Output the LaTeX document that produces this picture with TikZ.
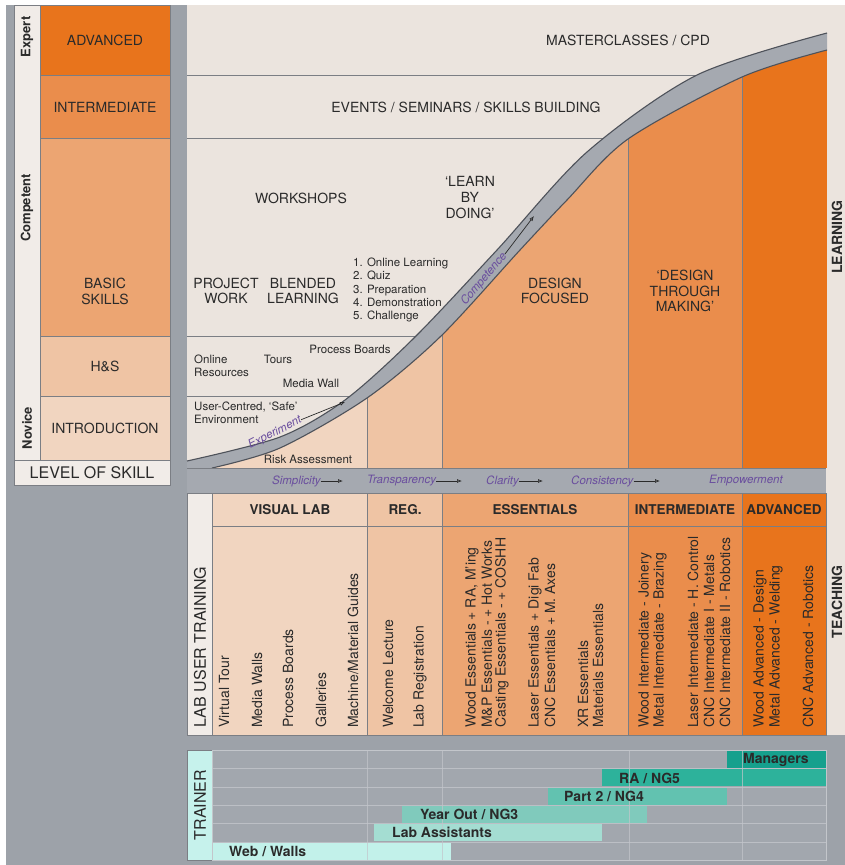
\documentclass[tikz,border=0pt]{standalone}
\usepackage{fontspec}
\setmainfont{TeX Gyre Heros}
\usetikzlibrary{arrows.meta}

\definecolor{bggray}{HTML}{9DA2A9}
\definecolor{paper}{HTML}{EBE4DE}
\definecolor{pale}{HTML}{F1ECE8}
\definecolor{bandgray}{HTML}{A5A9B0}
\definecolor{edgegray}{HTML}{4E525A}
\definecolor{rulegray}{HTML}{7B7E84}
\definecolor{lvlA}{HTML}{E8741C}
\definecolor{lvlB}{HTML}{EA8D4C}
\definecolor{lvlC}{HTML}{ECA572}
\definecolor{lvlD}{HTML}{EFC4A4}
\definecolor{lvlE}{HTML}{F1D5C0}
\definecolor{ink}{HTML}{2A2A2A}
\definecolor{moodpurple}{HTML}{6A4E9E}
\definecolor{trgrid}{HTML}{A2A7AE}
\definecolor{trline}{HTML}{C3C6CB}
\definecolor{trlabel}{HTML}{C6F2EC}
\definecolor{trMgr}{HTML}{16A08D}
\definecolor{trRA}{HTML}{2DB29B}
\definecolor{trPart}{HTML}{62C2B0}
\definecolor{trYear}{HTML}{80CABC}
\definecolor{trAsst}{HTML}{A4DDD2}
\definecolor{trWeb}{HTML}{C2F1EA}

\tikzset{
  txt/.style={text=ink, font=\fontsize{14}{16}\selectfont, align=center, inner sep=0pt},
  txtb/.style={txt, font=\fontsize{14}{16}\selectfont\bfseries},
  hdr/.style={txt, font=\fontsize{13.5}{16}\selectfont\bfseries},
  small/.style={text=ink, font=\fontsize{11.5}{13.3}\selectfont, align=left, inner sep=0pt},
  mood/.style={text=moodpurple, font=\fontsize{11.5}{13}\selectfont\itshape, inner sep=0pt},
  vert/.style={txt, rotate=90, anchor=west, align=left},
  side/.style={txtb, rotate=90},
  barlabel/.style={txtb, anchor=west},
  cell/.style={draw=rulegray, line width=0.8pt},
  rule/.style={draw=rulegray, line width=0.9pt},
  edge/.style={draw=edgegray, line width=1.1pt},
  flow/.style={draw=ink, line width=0.7pt, -{Latex[open,length=5pt,width=4pt]}},
}

\begin{document}
\begin{tikzpicture}[x=1pt,y=-1pt]
    \useasboundingbox (0,0) rectangle (845,865);
    \fill[white] (0,0) rectangle (845,865);
    \fill[bggray] (6,5) rectangle (845,865);

    % Level of skill column
    \draw[cell, fill=pale] (14,5) rectangle (40,460);
    \node[side, font=\fontsize{13}{15}\selectfont\bfseries] (expert) at (27,37) {Expert};
    \node[side, font=\fontsize{13}{15}\selectfont\bfseries] (competent) at (27,208) {Competent};
    \node[side, font=\fontsize{13}{15}\selectfont\bfseries] (novice) at (27,428) {Novice};

    \draw[cell, fill=lvlA] (40,5) rectangle (170,75);
    \draw[cell, fill=lvlB] (40,75) rectangle (170,138);
    \draw[cell, fill=lvlC] (40,138) rectangle (170,336);
    \draw[cell, fill=lvlD] (40,336) rectangle (170,396);
    \draw[cell, fill=lvlE] (40,396) rectangle (170,460);
    \draw[cell, fill=pale] (14,460) rectangle (170,485);
    \node[txt] (lvAdv) at (105,40) {ADVANCED};
    \node[txt] (lvInt) at (105,107) {INTERMEDIATE};
    \node[txt] (lvBasic) at (105,291) {BASIC\\SKILLS};
    \node[txt] (lvHS) at (105,366) {H\&S};
    \node[txt] (lvIntro) at (105,428) {INTRODUCTION};
    \node[txt, font=\fontsize{16}{18}\selectfont] (lvTitle) at (92,473) {LEVEL OF SKILL};

    % Learning panel
    \fill[paper] (187,5) rectangle (845,468);
    \draw[rule] (187,75) -- (712,75);
    \draw[rule] (187,138) -- (612,138);
    \draw[rule] (187,336) -- (426,336);
    \draw[rule] (187,396) -- (354,396);

    % Coloured stages under the curve
    \begin{scope}
      \clip plot[smooth] coordinates {(212,468) (280,448) (367,398) (440,337) (520,250) (567,200) (628,139) (742,77) (827,50)}
        -- (827,468) -- (212,468) -- cycle;
      \fill[lvlE] (212,0) rectangle (367,468);
      \fill[lvlD] (367,0) rectangle (442,468);
      \fill[lvlC] (442,0) rectangle (628,468);
      \fill[lvlB] (628,0) rectangle (742,468);
      \fill[lvlA] (742,0) rectangle (827,468);
      \draw[rule] (367,0) -- (367,468);
      \draw[rule] (442,0) -- (442,468);
      \draw[rule] (628,0) -- (628,468);
      \draw[rule] (742,0) -- (742,468);
    \end{scope}

    % The learning curve
    \fill[bandgray] plot[smooth] coordinates {(187,461) (280,437) (345,400) (414,338) (497,250) (587,152) (697,75) (827,33)}
      -- (827,50)
      -- plot[smooth] coordinates {(827,50) (742,77) (628,139) (567,200) (520,250) (440,337) (367,398) (280,448) (212,468)}
      -- (187,468) -- cycle;
    \draw[edge] plot[smooth] coordinates {(187,461) (280,437) (345,400) (414,338) (497,250) (587,152) (697,75) (827,33)};
    \draw[edge] plot[smooth] coordinates {(212,468) (280,448) (367,398) (440,337) (520,250) (567,200) (628,139) (742,77) (827,50)};

    % Along the curve
    \node[mood, rotate=27] (exper) at (275,433) {Experiment};
    \coordinate (experEnd) at (345,402);
    \draw[flow] (exper.east) -- (experEnd);
    \node[mood, rotate=50] (compet) at (484,279) {Competence};
    \coordinate (competEnd) at (534,216);
    \draw[flow] (compet.east) -- (competEnd);

    % Learning labels
    \node[txt] (master) at (628,40) {MASTERCLASSES / CPD};
    \node[txt] (events) at (466,107) {EVENTS / SEMINARS / SKILLS BUILDING};
    \node[txt] (workshops) at (301,198) {WORKSHOPS};
    \node[txt] (learnDoing) at (470,198) {`LEARN\\BY\\DOING'};
    \node[txt, font=\fontsize{14}{15}\selectfont] (project) at (226,291) {PROJECT\\WORK};
    \node[txt, font=\fontsize{14}{15}\selectfont] (blended) at (303,291) {BLENDED\\LEARNING};
    \node[small, anchor=west] (steps) at (353,290) {1. Online Learning\\2. Quiz\\3. Preparation\\4. Demonstration\\5. Challenge};
    \node[txt, font=\fontsize{14}{15}\selectfont] (designFoc) at (555,291) {DESIGN\\FOCUSED};
    \node[txt, font=\fontsize{14}{15.5}\selectfont] (designMake) at (685,291) {`DESIGN\\THROUGH\\MAKING'};
    \node[small, anchor=west] (online) at (194,366) {Online\\Resources};
    \node[small] (tours) at (278,359) {Tours};
    \node[small] (procBoards) at (350,349) {Process Boards};
    \node[small] (mediaWall) at (311,383) {Media Wall};
    \node[small, anchor=west] (userSafe) at (194,413) {User-Centred, `Safe'\\Environment};
    \node[small] (risk) at (308,459) {Risk Assessment};

    % Values band
    \fill[bandgray] (187,468) rectangle (826,493);
    \draw[rule] (187,468) -- (845,468);
    \draw[rule] (187,493) -- (826,493);
    \node[mood, anchor=west] (simp) at (272,481) {Simplicity};
    \coordinate (simpEnd) at (343,481);
    \draw[flow] (simp.east) -- (simpEnd);
    \node[mood, anchor=west] (transp) at (367,481) {Transparency};
    \coordinate (transpEnd) at (462,481);
    \draw[flow] (transp.east) -- (transpEnd);
    \node[mood, anchor=west] (clarity) at (486,481) {Clarity};
    \coordinate (clarityEnd) at (543,481);
    \draw[flow] (clarity.east) -- (clarityEnd);
    \node[mood, anchor=west] (consist) at (571,481) {Consistency};
    \coordinate (consistEnd) at (660,481);
    \draw[flow] (consist.east) -- (consistEnd);
    \node[mood, anchor=west] (empower) at (709,481) {Empowerment};

    % Side labels
    \fill[paper] (826,468) rectangle (845,735);
    \node[side] (learning) at (837,237) {LEARNING};
    \node[side] (teaching) at (837,602) {TEACHING};

    % Lab user training table
    \draw[cell, fill=pale] (187,493) rectangle (212,735);
    \draw[cell, fill=lvlE] (212,493) rectangle (367,735);
    \draw[cell, fill=lvlD] (367,493) rectangle (442,735);
    \draw[cell, fill=lvlC] (442,493) rectangle (628,735);
    \draw[cell, fill=lvlB] (628,493) rectangle (742,735);
    \draw[cell, fill=lvlA] (742,493) rectangle (826,735);
    \draw[rule] (212,526) -- (826,526);
    \node[txt, rotate=90, font=\fontsize{16}{18}\selectfont] (labUser) at (200,647) {LAB USER TRAINING};
    \node[hdr] (hdVisual) at (290,510) {VISUAL LAB};
    \node[hdr] (hdReg) at (405,510) {REG.};
    \node[hdr] (hdEss) at (535,510) {ESSENTIALS};
    \node[hdr] (hdInt) at (685,510) {INTERMEDIATE};
    \node[hdr] (hdAdv) at (784,510) {ADVANCED};

    \node[vert] (virtual) at (224,728) {Virtual Tour};
    \node[vert] (mediaWalls) at (257,728) {Media Walls};
    \node[vert] (processB) at (288,728) {Process Boards};
    \node[vert] (galleries) at (321,728) {Galleries};
    \node[vert] (guides) at (353,728) {Machine/Material Guides};
    \node[vert] (welcome) at (388,728) {Welcome Lecture};
    \node[vert] (labReg) at (420,728) {Lab Registration};
    \node[vert] (woodEss) at (472,728) {Wood Essentials + RA, M'ing};
    \node[vert] (mpEss) at (487,728) {M\&P Essentials - + Hot Works};
    \node[vert] (castEss) at (502,728) {Casting Essentials - + COSHH};
    \node[vert] (laserEss) at (535,728) {Laser Essentials + Digi Fab};
    \node[vert] (cncEss) at (550,728) {CNC Essentials + M. Axes};
    \node[vert] (xrEss) at (583,728) {XR Essentials};
    \node[vert] (matEss) at (598,728) {Materials Essentials};
    \node[vert] (woodInt) at (645,728) {Wood Intermediate - Joinery};
    \node[vert] (metalInt) at (660,728) {Metal Intermediate - Brazing};
    \node[vert] (laserInt) at (693,728) {Laser Intermediate - H. Control};
    \node[vert] (cncIntA) at (709,728) {CNC Intermediate I - Metals};
    \node[vert] (cncIntB) at (725,728) {CNC Intermediate II - Robotics};
    \node[vert] (woodAdv) at (760,728) {Wood Advanced - Design};
    \node[vert] (metalAdv) at (776,728) {Metal Advanced - Welding};
    \node[vert] (cncAdv) at (808,728) {CNC Advanced - Robotics};

    % Trainer chart
    \fill[trgrid] (212,750) rectangle (826,860);
    \draw[cell, fill=trlabel] (187,750) rectangle (212,860);
    \node[txt, rotate=90, font=\fontsize{16}{18}\selectfont] (trainer) at (200,805) {TRAINER};
    \fill[trMgr] (727,751) rectangle (826,768);
    \fill[trRA] (602,769) rectangle (826,786);
    \fill[trPart] (548,788) rectangle (727,805);
    \fill[trYear] (402,806) rectangle (647,823);
    \fill[trAsst] (374,824) rectangle (602,841);
    \fill[trWeb] (212,843) rectangle (451,860);
    \foreach \y in {768.5,787,805.5,823.5,842} \draw[trline, line width=1pt, opacity=0.8] (212,\y) -- (826,\y);
    \foreach \x in {367,442,629,742} \draw[trline, line width=1pt, opacity=0.7] (\x,750) -- (\x,860);
    \draw[trline, line width=1pt] (212,750) rectangle (826,860);
    \node[barlabel] (mgr) at (743,759.5) {Managers};
    \node[barlabel] (ra) at (619,778) {RA / NG5};
    \node[barlabel] (part) at (564,796.5) {Part 2 / NG4};
    \node[barlabel] (year) at (420,814.5) {Year Out / NG3};
    \node[barlabel] (asst) at (392,832.5) {Lab Assistants};
    \node[barlabel] (web) at (229,851.5) {Web / Walls};
\end{tikzpicture}
\end{document}
